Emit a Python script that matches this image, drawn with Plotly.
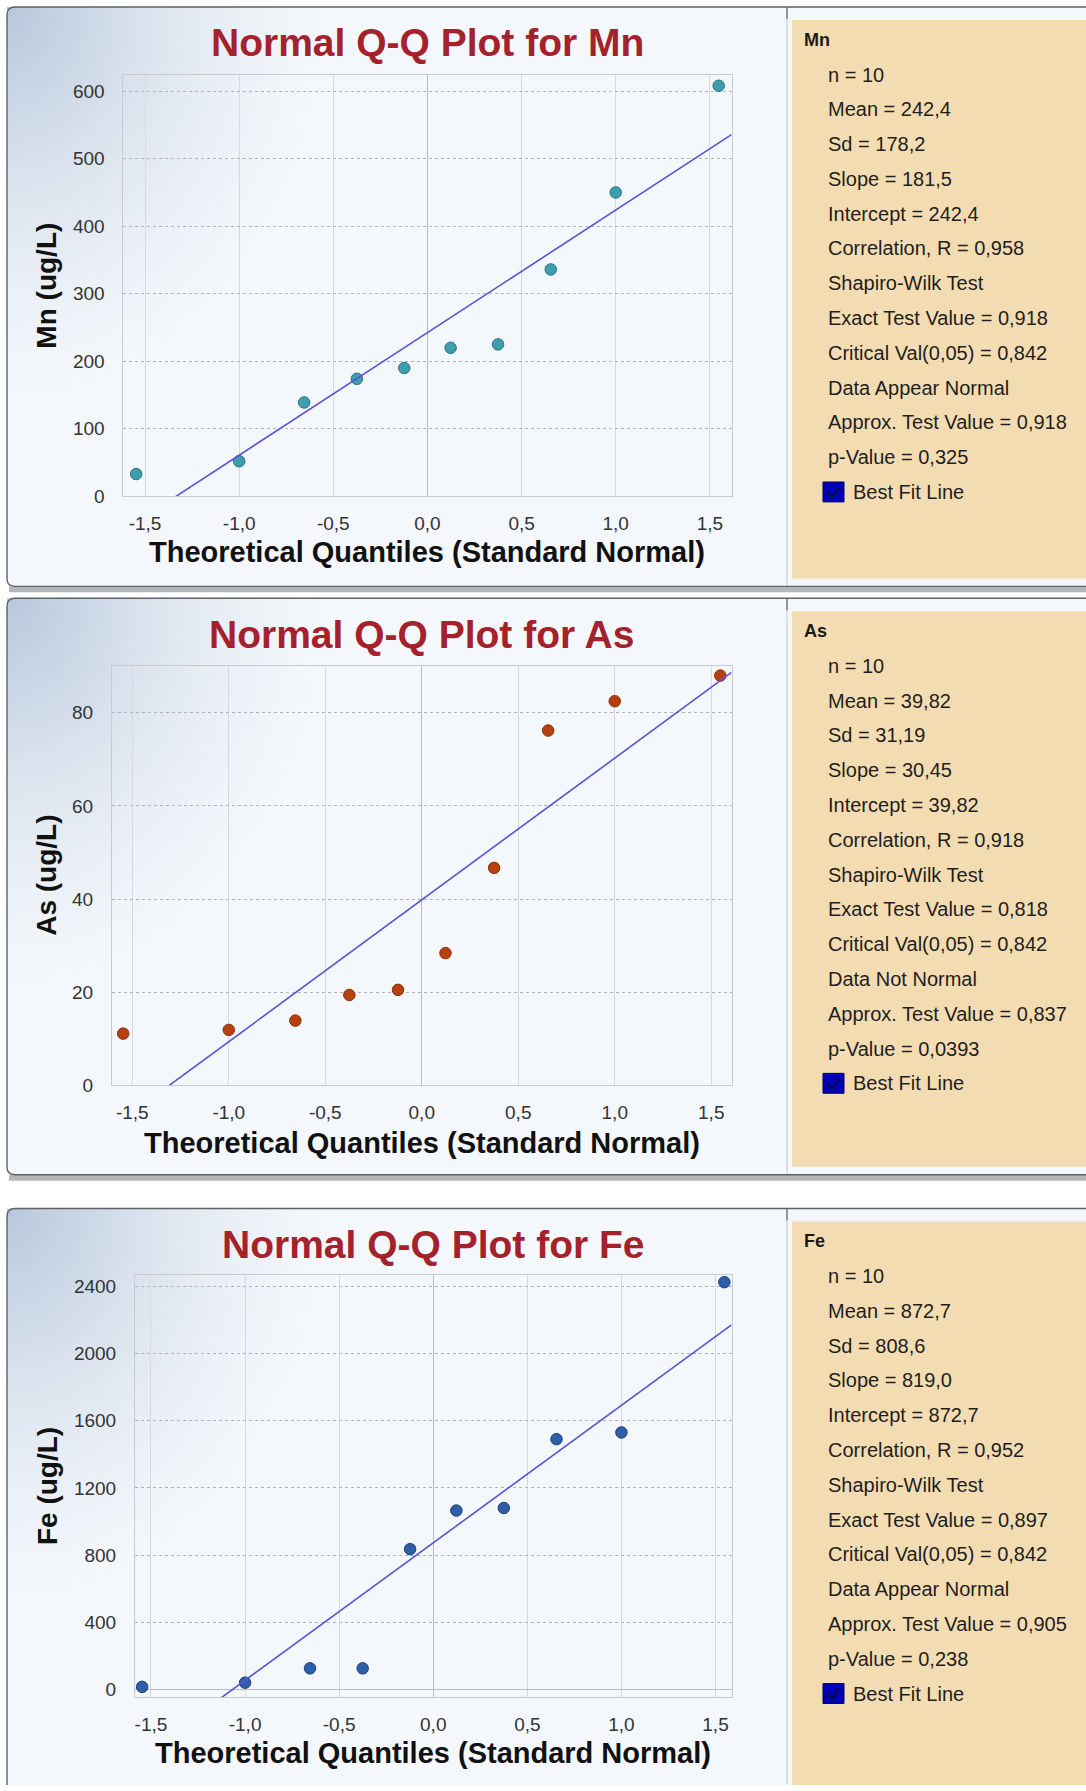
import base64
import struct
import zlib

import plotly.graph_objects as go

# ---------------- data ----------------
theoretical_quantiles = [-1.547, -1.000, -0.655, -0.375, -0.123, 0.123, 0.375, 0.655, 1.000, 1.547]

mn_values = [33, 52, 139, 174, 190, 220, 225, 336, 450, 608]
as_values = [11.1, 11.9, 13.9, 19.4, 20.5, 28.4, 46.7, 76.2, 82.5, 88.0]
fe_values = [15, 40, 125, 125, 835, 1065, 1080, 1490, 1530, 2425]

mn_slope, mn_intercept = 181.5, 242.4
as_slope, as_intercept = 30.45, 39.82
fe_slope, fe_intercept = 819.0, 872.7

x_tick_vals = [-1.5, -1.0, -0.5, 0.0, 0.5, 1.0, 1.5]
x_tick_text = ["-1,5", "-1,0", "-0,5", "0,0", "0,5", "1,0", "1,5"]

mn_y_ticks = [0, 100, 200, 300, 400, 500, 600]
as_y_ticks = [0, 20, 40, 60, 80]
fe_y_ticks = [0, 400, 800, 1200, 1600, 2000, 2400]

mn_stats = ["n = 10", "Mean = 242,4", "Sd = 178,2", "Slope = 181,5", "Intercept = 242,4",
            "Correlation, R = 0,958", "Shapiro-Wilk Test", "Exact Test Value = 0,918",
            "Critical Val(0,05) = 0,842", "Data Appear Normal", "Approx. Test Value = 0,918",
            "p-Value = 0,325"]
as_stats = ["n = 10", "Mean = 39,82", "Sd = 31,19", "Slope = 30,45", "Intercept = 39,82",
            "Correlation, R = 0,918", "Shapiro-Wilk Test", "Exact Test Value = 0,818",
            "Critical Val(0,05) = 0,842", "Data Not Normal", "Approx. Test Value = 0,837",
            "p-Value = 0,0393"]
fe_stats = ["n = 10", "Mean = 872,7", "Sd = 808,6", "Slope = 819,0", "Intercept = 872,7",
            "Correlation, R = 0,952", "Shapiro-Wilk Test", "Exact Test Value = 0,897",
            "Critical Val(0,05) = 0,842", "Data Appear Normal", "Approx. Test Value = 0,905",
            "p-Value = 0,238"]

element_names = ["Mn", "As", "Fe"]
best_fit_label = "Best Fit Line"
x_axis_title = "Theoretical Quantiles (Standard Normal)"

# ---------------- layout / style ----------------
W, H = 1086, 1791


def X(px):
    return px / W


def Y(py):
    return 1 - py / H


FONT = "Liberation Sans, Arial, Helvetica, sans-serif"
TITLE_COLOR = "#A3222B"
LINE_COLOR = "#5A52D6"
BG = (244, 247, 251)

panels = [
    dict(name="Mn", values=mn_values, slope=mn_slope, intercept=mn_intercept, yticks=mn_y_ticks,
         stats=mn_stats, top=7, bottom=590, left=123.4, ptop=75.4, pbottom=499.4,
         xrange=[-1.615, 1.615], yrange=[0, 624], zero_y=False,
         fill="#3D9FAD", edge="#2A707C"),
    dict(name="As", values=as_values, slope=as_slope, intercept=as_intercept, yticks=as_y_ticks,
         stats=as_stats, top=602, bottom=1182, left=112, ptop=670.4, pbottom=1092,
         xrange=[-1.605, 1.605], yrange=[0, 90], zero_y=False,
         fill="#B8400F", edge="#86300B"),
    dict(name="Fe", values=fe_values, slope=fe_slope, intercept=fe_intercept, yticks=fe_y_ticks,
         stats=fe_stats, top=1216, bottom=None, left=135, ptop=1283, pbottom=1707.4,
         xrange=[-1.585, 1.585], yrange=[-45, 2467], zero_y=True,
         fill="#2E5EA8", edge="#1D3F78"),
]
PLOT_RIGHT = 731.5
DIVIDER_X = 787


def gradient_png(w_px, h_px, step=4):
    cols, rows = int(w_px / step) + 1, int(h_px / step) + 1
    corner = (184, 200, 220)
    data = []
    for j in range(rows):
        row = bytearray()
        yy = j * step
        for i in range(cols):
            xx = i * step
            d = ((xx / 320.0) ** 2 + (yy / 400.0) ** 2) ** 0.5
            wgt = max(0.0, 1.0 - d) ** 1.5
            for c in range(3):
                row.append(int(round(BG[c] + (corner[c] - BG[c]) * wgt)))
        data.append(bytes(row))
    raw = b"".join(b"\x00" + r for r in data)

    def chunk(t, d):
        return struct.pack(">I", len(d)) + t + d + struct.pack(">I", zlib.crc32(t + d) & 0xFFFFFFFF)

    png = (b"\x89PNG\r\n\x1a\n"
           + chunk(b"IHDR", struct.pack(">IIBBBBB", cols, rows, 8, 2, 0, 0, 0))
           + chunk(b"IDAT", zlib.compress(raw, 9))
           + chunk(b"IEND", b""))
    return "data:image/png;base64," + base64.b64encode(png).decode()


fig = go.Figure()
shapes, annotations, images = [], [], []
bg_css = "rgb(%d,%d,%d)" % BG

for k, p in enumerate(panels):
    suffix = "" if k == 0 else str(k + 1)
    xa, ya = "x" + suffix, "y" + suffix
    top = p["top"]
    bottom = p["bottom"] if p["bottom"] is not None else H + 5

    # panel background (gradient) + base right part
    images.append(dict(source=gradient_png(DIVIDER_X - 7, bottom - top), xref="paper", yref="paper",
                       x=X(7), y=Y(top), sizex=X(DIVIDER_X) - X(7), sizey=(bottom - top) / H,
                       xanchor="left", yanchor="top", sizing="stretch", layer="below"))
    shapes.append(dict(type="rect", xref="paper", yref="paper", x0=X(DIVIDER_X), x1=X(W + 2),
                       y0=Y(top), y1=Y(bottom), fillcolor=bg_css, line=dict(width=0), layer="below"))
    # info panel
    tan_bottom = bottom - 8 if p["bottom"] is not None else H + 5
    shapes.append(dict(type="rect", xref="paper", yref="paper", x0=X(792), x1=X(W + 2),
                       y0=Y(top + 13), y1=Y(tan_bottom), fillcolor="#F4DCB2",
                       line=dict(width=0), layer="below"))
    shapes.append(dict(type="line", xref="paper", yref="paper", x0=X(DIVIDER_X), x1=X(DIVIDER_X),
                       y0=Y(top), y1=Y(bottom), line=dict(color="#C9C9C9", width=1), layer="below"))
    shapes.append(dict(type="line", xref="paper", yref="paper", x0=X(DIVIDER_X), x1=X(DIVIDER_X),
                       y0=Y(top), y1=Y(top + 12), line=dict(color="#666666", width=1.2), layer="below"))
    # panel border (rounded left corners)
    r = 8
    if p["bottom"] is not None:
        path = ("M %f,%f L %f,%f Q %f,%f %f,%f L %f,%f Q %f,%f %f,%f L %f,%f" % (
            X(W + 2), Y(top), X(7 + r), Y(top), X(7), Y(top), X(7), Y(top + r),
            X(7), Y(bottom - r), X(7), Y(bottom), X(7 + r), Y(bottom), X(W + 2), Y(bottom)))
        shapes.append(dict(type="rect", xref="paper", yref="paper", x0=X(9), x1=X(W + 2),
                           y0=Y(bottom), y1=Y(bottom + 6), fillcolor="#B3B7BC",
                           line=dict(width=0), layer="below"))
    else:
        path = "M %f,%f L %f,%f Q %f,%f %f,%f L %f,%f" % (
            X(W + 2), Y(top), X(7 + r), Y(top), X(7), Y(top), X(7), Y(top + r), X(7), Y(H + 5))
    shapes.append(dict(type="path", xref="paper", yref="paper", path=path,
                       line=dict(color="#5E6266", width=1.4), layer="above"))

    # data traces
    fig.add_trace(go.Scatter(x=theoretical_quantiles, y=p["values"], mode="markers",
                             marker=dict(size=11.5, color=p["fill"], line=dict(color=p["edge"], width=1)),
                             cliponaxis=False, xaxis=xa, yaxis=ya, showlegend=False, hoverinfo="x+y"))
    line_x = list(p["xrange"])
    line_y = [p["intercept"] + p["slope"] * v for v in line_x]
    fig.add_trace(go.Scatter(x=line_x, y=line_y, mode="lines",
                             line=dict(color=LINE_COLOR, width=1.6),
                             xaxis=xa, yaxis=ya, showlegend=False, hoverinfo="skip"))

    xdom = [X(p["left"]), X(PLOT_RIGHT)]
    ydom = [Y(p["pbottom"]), Y(p["ptop"])]
    fig.update_layout(**{
        "xaxis" + suffix: dict(domain=xdom, range=p["xrange"], anchor=ya,
                               tickvals=x_tick_vals, ticktext=x_tick_text, ticks="",
                               showgrid=True, gridcolor="#D6D9DD", gridwidth=1,
                               zeroline=True, zerolinecolor="#B9BCC0", zerolinewidth=1,
                               showline=True, linecolor="#C6CBD0", linewidth=1, mirror=True,
                               tickfont=dict(family=FONT, size=19, color="#333333"),
                               ticklabelstandoff=10, fixedrange=True),
        "yaxis" + suffix: dict(domain=ydom, range=p["yrange"], anchor=xa,
                               tickvals=p["yticks"], ticks="",
                               showgrid=True, gridcolor="#B0B3B7", griddash="dot", gridwidth=1,
                               zeroline=p["zero_y"], zerolinecolor="#B9BCC0", zerolinewidth=1.2,
                               showline=True, linecolor="#C6CBD0", linewidth=1, mirror=True,
                               tickfont=dict(family=FONT, size=19, color="#333333"),
                               ticklabelstandoff=14, fixedrange=True),
    })

    pcx = (p["left"] + PLOT_RIGHT) / 2
    annotations.append(dict(text="<b>Normal Q-Q Plot for %s</b>" % p["name"], xref="paper", yref="paper",
                            x=X(pcx), y=Y(top + 36), xanchor="center", yanchor="middle",
                            showarrow=False, font=dict(family=FONT, size=39, color=TITLE_COLOR)))
    annotations.append(dict(text="<b>%s</b>" % x_axis_title, xref="paper", yref="paper",
                            x=X(pcx), y=Y(top + 548), xanchor="center", yanchor="middle",
                            showarrow=False, font=dict(family=FONT, size=29, color="#111111")))
    annotations.append(dict(text="<b>%s (ug/L)</b>" % p["name"], xref="paper", yref="paper",
                            x=X(47), y=Y((p["ptop"] + p["pbottom"]) / 2), xanchor="center",
                            yanchor="middle", textangle=-90, showarrow=False,
                            font=dict(family=FONT, size=28, color="#111111")))

    # info panel text
    annotations.append(dict(text="<b>%s</b>" % p["name"], xref="paper", yref="paper",
                            x=X(802), y=Y(top + 33), xanchor="left", yanchor="middle",
                            showarrow=False, font=dict(family=FONT, size=18, color="#1A1A1A")))
    for i, s in enumerate(p["stats"]):
        annotations.append(dict(text=s, xref="paper", yref="paper", x=X(826), y=Y(top + 68 + 35 * i),
                                xanchor="left", yanchor="middle", showarrow=False,
                                font=dict(family=FONT, size=20, color="#1E1E1E")))
    cy = top + 68 + 35 * 12
    annotations.append(dict(text=best_fit_label, xref="paper", yref="paper", x=X(851), y=Y(cy),
                            xanchor="left", yanchor="middle", showarrow=False,
                            font=dict(family=FONT, size=20, color="#1E1E1E")))
    shapes.append(dict(type="rect", xref="paper", yref="paper", x0=X(823), x1=X(844),
                       y0=Y(cy + 10), y1=Y(cy - 10), fillcolor="#0000B8",
                       line=dict(color="#00005A", width=1), layer="above"))
    shapes.append(dict(type="path", xref="paper", yref="paper",
                       path="M %f,%f L %f,%f L %f,%f" % (X(827), Y(cy), X(832), Y(cy + 5), X(840), Y(cy - 5)),
                       line=dict(color="#0A0A3A", width=2), layer="above"))

fig.update_layout(
    width=W, height=H, margin=dict(l=0, r=0, t=0, b=0),
    paper_bgcolor="white", plot_bgcolor="rgba(0,0,0,0)",
    shapes=shapes, annotations=annotations, images=images,
    showlegend=False, font=dict(family=FONT),
)

fig.write_html("out.html")
